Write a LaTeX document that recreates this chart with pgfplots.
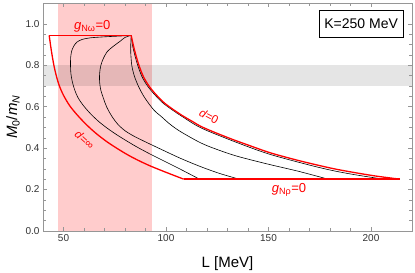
\documentclass[border=0pt]{standalone}
\usepackage{fontspec}
\setmainfont{Liberation Sans}
\usepackage{pgfplots}
\pgfplotsset{compat=1.18}
\definecolor{myred}{RGB}{255,0,0}
\definecolor{pinkband}{RGB}{255,204,204}
\definecolor{framegray}{RGB}{150,150,150}
\definecolor{ticktext}{RGB}{50,50,50}
\begin{document}
\begin{tikzpicture}
\useasboundingbox (-43pt,-41.3pt) rectangle (371.7pt,230.7pt);
\begin{axis}[
  scale only axis, width=368.7pt, height=227.4pt,
  xmin=40, xmax=220, ymin=0, ymax=1.1,
  xtick={50,100,150,200}, minor x tick num=4,
  ytick={0,0.2,0.4,0.6,0.8,1.0}, minor y tick num=3,
  yticklabel style={/pgf/number format/.cd, fixed, fixed zerofill, precision=1},
  /pgf/number format/assume math mode=true,
  ticklabel style={font=\fontsize{10}{12}\selectfont, text=ticktext},
  xticklabel pos=lower, yticklabel pos=left,
  xtick pos=both, ytick pos=both,
  tick align=inside,
  major tick length=4pt, minor tick length=2.5pt,
  every tick/.style={framegray, line width=0.5pt},
  axis line style={framegray, line width=0.6pt},
  xlabel={L [MeV]},
  xlabel style={font=\fontsize{15}{17}\selectfont, at={([yshift=-36.5pt]axis description cs:0.5,0)}, anchor=base},
  ylabel={\textit{M}\textsubscript{0}/\textit{m}\textsubscript{\textit{N}}},
  ylabel style={font=\fontsize{15}{17}\selectfont},
  ylabel shift=-1pt,
  clip=true,
  axis on top,
]
% bands
\addplot[fill=pinkband, draw=none] coordinates {(47.2,0) (93,0) (93,1.1) (47.2,1.1)} -- cycle;
\addplot[fill=black, fill opacity=0.1, draw=none] coordinates {(40,0.7) (220,0.7) (220,0.8) (40,0.8)} -- cycle;

% black curves
\addplot[black, line width=0.6pt, smooth] coordinates {
(83,0.945) (78,0.942) (70,0.938) (63,0.933) (59,0.925) (56.5,0.912) (55,0.893) (54,0.87) (53.5,0.84) (53.4,0.8) (53.6,0.76) (54.3,0.72) (55.5,0.68) (57,0.645) (59.5,0.608) (63,0.568) (67,0.53) (71.5,0.495) (77,0.458) (85,0.41) (92.5,0.37) (100,0.333) (107.2,0.297) (116.3,0.25)};
\addplot[black, line width=0.6pt, smooth] coordinates {
(83,0.945) (80,0.935) (77.8,0.918) (74,0.89) (71.3,0.866) (69.5,0.835) (68.2,0.8) (67.6,0.76) (67.6,0.72) (68.2,0.68) (69.5,0.64) (71,0.6) (73.5,0.555) (76.5,0.515) (80,0.484) (84.3,0.458) (90,0.43) (97,0.397) (107.2,0.35) (117,0.31) (126,0.278) (135.6,0.25)};
\addplot[black, line width=0.6pt, smooth] coordinates {
(83,0.945) (82.8,0.9) (82.8,0.86) (83.3,0.8) (84.5,0.75) (86.5,0.7) (89.5,0.645) (94,0.585) (98,0.55) (102,0.515) (107.2,0.479) (117,0.425) (125,0.393) (135,0.36) (150,0.322) (165,0.287) (179,0.25)};
\addplot[black, line width=0.6pt, smooth] coordinates {
(83,0.945) (83.6,0.9) (84.5,0.86) (86.2,0.8) (88.3,0.745) (91,0.7) (94.5,0.658) (98.5,0.618) (103,0.585) (108,0.552) (117,0.498) (133,0.433) (150,0.372) (170,0.318) (182,0.29) (193,0.27) (206,0.25)};

% red boundary
\addplot[myred, line width=1.3pt] coordinates {(43,0.945) (83,0.945)};
\addplot[myred, line width=1.3pt] coordinates {(108.6,0.25) (214,0.25)};
\addplot[myred, line width=1.3pt, smooth] coordinates {
(83,0.945) (84,0.9) (85,0.86) (86.8,0.8) (89,0.745) (91.7,0.7) (95,0.66) (99,0.62) (103,0.59) (108,0.557) (113,0.528) (117,0.505) (124,0.475) (133,0.44) (140,0.415) (150,0.38) (160,0.352) (170,0.327) (182,0.3) (193,0.28) (203,0.264) (214,0.25)};
\addplot[myred, line width=1.3pt, smooth] coordinates {
(43,0.945) (44,0.875) (45.3,0.8) (46.6,0.745) (48,0.7) (50,0.655) (53,0.605) (56.7,0.56) (61,0.515) (66,0.47) (72,0.425) (80,0.375) (86,0.343) (92.5,0.313) (100,0.283) (108.6,0.25)};

% labels
\node[text=myred, font=\fontsize{13}{15}\selectfont] at (axis cs:64,0.99) {\textit{g}\textsubscript{Nω}=0};
\node[text=myred, font=\fontsize{13}{15}\selectfont] at (axis cs:160,0.197) {\textit{g}\textsubscript{Nρ}=0};
\node[text=myred, font=\fontsize{11.5}{13}\selectfont, rotate=-28] at (axis cs:121,0.553) {\textit{d}=0};
\node[text=myred, font=\fontsize{11.5}{13}\selectfont, rotate=-42] at (axis cs:60.3,0.44) {\textit{d}=∞};
\node[draw=black, line width=0.8pt, fill=white, minimum width=84pt, minimum height=26.6pt, inner sep=0pt, font=\fontsize{14}{16}\selectfont] at (axis cs:195.2,1.0) {K=250 MeV};
\end{axis}
\end{tikzpicture}
\end{document}
